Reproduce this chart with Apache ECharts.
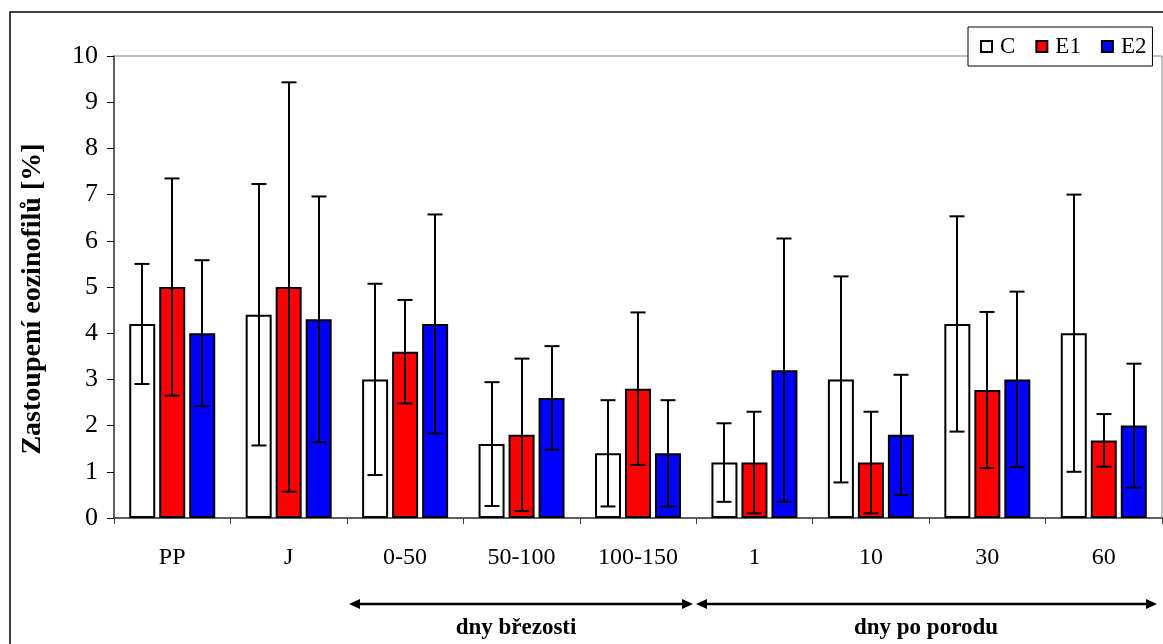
<!DOCTYPE html>
<html>
<head>
<meta charset="utf-8">
<script src="https://cdn.jsdelivr.net/npm/echarts@6/dist/echarts.min.js"></script>
<style>
html,body{margin:0;padding:0;background:#fff;}
#chart{width:1163px;height:644px;}
</style>
</head>
<body>
<div id="chart"></div>
<script>
const categories = ['PP', 'J', '0-50', '50-100', '100-150', '1', '10', '30', '60'];
const seriesNames = ['C', 'E1', 'E2'];
const meanC  = [4.2, 4.4, 3.0, 1.6, 1.4, 1.2, 3.0, 4.2, 4.0];
const meanE1 = [5.0, 5.0, 3.6, 1.8, 2.8, 1.2, 1.2, 2.77, 1.68];
const meanE2 = [4.0, 4.3, 4.2, 2.6, 1.4, 3.2, 1.8, 3.0, 2.0];
const sdC  = [1.3, 2.83, 2.07, 1.34, 1.15, 0.85, 2.23, 2.33, 3.0];
const sdE1 = [2.35, 4.43, 1.12, 1.65, 1.65, 1.1, 1.1, 1.69, 0.57];
const sdE2 = [1.58, 2.66, 2.37, 1.12, 1.15, 2.85, 1.3, 1.9, 1.34];
const yTicks = [0, 1, 2, 3, 4, 5, 6, 7, 8, 9, 10];
const yTitle = 'Zastoupení eozinofilů [%]';
const groupLabels = ['dny březosti', 'dny po porodu'];

const FONT = '"Liberation Serif", "Times New Roman", serif';
const colors = ['#ffffff', '#ff0000', '#0000ff'];
const means = [meanC, meanE1, meanE2];
const sds = [sdC, sdE1, sdE2];
const BAR_W = 26, BAR_GAP = 4;
const offsets = [-(BAR_W + BAR_GAP), 0, BAR_W + BAR_GAP];

const chart = echarts.init(document.getElementById('chart'), null, {renderer: 'canvas'});

const barSeries = seriesNames.map((n, k) => ({
  name: n,
  type: 'bar',
  data: means[k],
  barWidth: BAR_W,
  barGap: (BAR_GAP / BAR_W * 100) + '%',
  itemStyle: {color: colors[k], borderColor: '#000', borderWidth: 2},
  emphasis: {disabled: true},
  z: 2
}));

const errSeries = seriesNames.map((n, k) => ({
  name: n + ' err',
  type: 'custom',
  data: categories.map((c, i) => [i, means[k][i] - sds[k][i], means[k][i] + sds[k][i]]),
  encode: {x: 0, y: [1, 2]},
  z: 5,
  silent: true,
  renderItem: function (params, api) {
    const x = api.value(0);
    const lo = api.coord([x, api.value(1)]);
    const hi = api.coord([x, api.value(2)]);
    const cx = Math.round(lo[0] + offsets[k]);
    const cap = 7.5;
    const st = {stroke: '#000', lineWidth: 2};
    return {
      type: 'group',
      children: [
        {type: 'line', shape: {x1: cx, y1: lo[1], x2: cx, y2: hi[1]}, style: st},
        {type: 'line', shape: {x1: cx - cap, y1: hi[1], x2: cx + cap, y2: hi[1]}, style: st},
        {type: 'line', shape: {x1: cx - cap, y1: lo[1], x2: cx + cap, y2: lo[1]}, style: st}
      ]
    };
  }
}));

function arrow(x1, x2, y) {
  const h = 11, w = 5;
  return {
    type: 'group',
    children: [
      {type: 'line', shape: {x1: x1 + 4, y1: y, x2: x2 - 4, y2: y}, style: {stroke: '#000', lineWidth: 2.5}},
      {type: 'polygon', shape: {points: [[x1, y], [x1 + h, y - w], [x1 + h, y + w]]}, style: {fill: '#000'}},
      {type: 'polygon', shape: {points: [[x2, y], [x2 - h, y - w], [x2 - h, y + w]]}, style: {fill: '#000'}}
    ]
  };
}

const option = {
  backgroundColor: '#fff',
  animation: false,
  grid: {left: 114, right: 1, top: 56, bottom: 126, show: true, borderColor: '#808080', borderWidth: 1, backgroundColor: 'transparent'},
  legend: {
    data: seriesNames,
    left: 968, top: 27,
    itemWidth: 11, itemHeight: 11, itemGap: 20,
    padding: [7, 6, 7, 12],
    icon: 'rect',
    borderColor: '#000', borderWidth: 1, borderRadius: 0,
    backgroundColor: '#fff',
    textStyle: {fontFamily: FONT, fontSize: 23, color: '#000', padding: [0, 0, 0, 3], lineHeight: 25},
    selectedMode: false
  },
  xAxis: {
    type: 'category',
    data: categories,
    axisLine: {lineStyle: {color: '#404040', width: 1.5}},
    axisTick: {show: true, length: 6, lineStyle: {color: '#404040'}},
    axisLabel: {fontFamily: FONT, fontSize: 24, color: '#000', margin: 28},
    splitLine: {show: false}
  },
  yAxis: {
    type: 'value',
    min: yTicks[0], max: yTicks[yTicks.length - 1], interval: 1,
    axisLine: {show: true, lineStyle: {color: '#404040', width: 1.5}},
    axisTick: {show: true, length: 7, lineStyle: {color: '#000'}},
    axisLabel: {fontFamily: FONT, fontSize: 26, color: '#000', margin: 16},
    splitLine: {show: false}
  },
  graphic: [
    {type: 'rect', shape: {x: 10, y: 12, width: 1200, height: 700}, style: {fill: 'none', stroke: '#000', lineWidth: 1.5}, silent: true, z: -1},
    {type: 'text', x: 33, y: 299, rotation: Math.PI / 2, style: {text: yTitle, font: 'bold 28px ' + FONT, fill: '#000', textAlign: 'center', textVerticalAlign: 'middle'}},
    arrow(349, 693, 604),
    arrow(696, 1157, 604),
    {type: 'text', style: {text: groupLabels[0], font: 'bold 23px ' + FONT, fill: '#000', x: 516, y: 628, textAlign: 'center', textVerticalAlign: 'middle'}},
    {type: 'text', style: {text: groupLabels[1], font: 'bold 23px ' + FONT, fill: '#000', x: 926, y: 628, textAlign: 'center', textVerticalAlign: 'middle'}}
  ],
  series: barSeries.concat(errSeries)
};
chart.setOption(option);
</script>
</body>
</html>
